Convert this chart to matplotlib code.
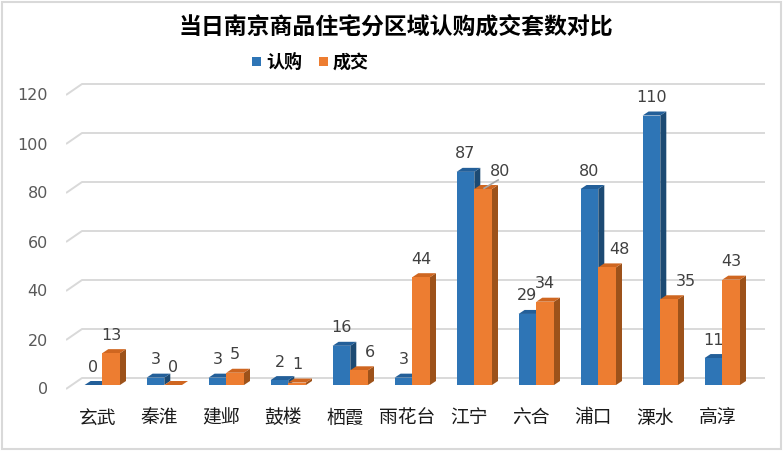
import matplotlib
matplotlib.use("Agg")
import matplotlib.pyplot as plt
from matplotlib.patches import Polygon, Rectangle
import matplotlib.transforms as mtransforms

plt.rcParams['font.family'] = ['Noto Sans CJK SC', 'DejaVu Sans']

# data
districts = ['玄武', '秦淮', '建邺', '鼓楼', '栖霞', '雨花台', '江宁', '六合', '浦口', '溧水', '高淳']
subscribed = [0, 3, 3, 2, 16, 3, 87, 29, 80, 110, 11]   # 认购
closed = [13, 0, 5, 1, 6, 44, 80, 34, 48, 35, 43]       # 成交
yticks = [0, 20, 40, 60, 80, 100, 120]

# colours: front, top, side
blue = ('#2e75b6', '#235f99', '#1c4a73')
orange = ('#ed7d31', '#cf6620', '#9d521a')
grid_c = '#d9d9d9'

W, H = 784, 452
fig = plt.figure(figsize=(W / 100, H / 100), dpi=100)

# plot area in pixels
px_left, px_right, px_bot, px_top = 66, 765, 400, 70
base_px, ppu = 386, 2.45      # pixel of value 0, pixels per unit
step_px = 62                   # pixels per category
first_px = 102.3               # pixel of first category centre
ax = fig.add_axes([px_left / W, (H - px_bot) / H, (px_right - px_left) / W, (px_bot - px_top) / H])
ax.set_xlim((px_left - first_px) / step_px, (px_right - first_px) / step_px)
ax.set_ylim((base_px - px_bot) / ppu, (base_px - px_top) / ppu)
for s in ax.spines.values():
    s.set_visible(False)
ax.set_xticks([])
ax.set_yticks([])

# 3d-ish gridlines on back wall
back = 7 / ppu
front = -4 / ppu
x_front = ax.get_xlim()[0]
x_back = (82 - first_px) / step_px
for v in yticks:
    ax.plot([x_front, x_back, ax.get_xlim()[1]], [v + front, v + back, v + back],
            color=grid_c, lw=1.4, zorder=0, solid_capstyle='butt')
    ax.text(-0.0, v + front, str(v), transform=mtransforms.blended_transform_factory(ax.transAxes, ax.transData)
            + mtransforms.ScaledTranslation(-18 / 100, 0, fig.dpi_scale_trans),
            ha='right', va='center', fontsize=11.5, color='#595959', family='DejaVu Sans')

w = 17.7 / step_px
dx = 6 / step_px
dy = 4 / ppu


def bar3d(x0, v, cols, z):
    x1 = x0 + w
    ax.add_patch(Polygon([(x1, 0), (x1 + dx, dy), (x1 + dx, v + dy), (x1, v)],
                         closed=True, fc=cols[2], ec='none', zorder=z))
    ax.add_patch(Polygon([(x0, v), (x1, v), (x1 + dx, v + dy), (x0 + dx, v + dy)],
                         closed=True, fc=cols[1], ec='none', zorder=z))
    ax.bar(x0, v, width=w, align='edge', color=cols[0], lw=0, zorder=z)


nudge = {('c', 4): 11, ('c', 8): 12, ('c', 9): 17, ('c', 6): 17}
lab_off = 19 / ppu
for i, name in enumerate(districts):
    bar3d(i - w, subscribed[i], blue, 2 + 2 * i)
    bar3d(i, closed[i], orange, 3 + 2 * i)
    for key, x0, v in (('s', i - w, subscribed[i]), ('c', i, closed[i])):
        xc = x0 + w / 2 + nudge.get((key, i), 0) / step_px
        ax.text(xc, v + lab_off, str(v), ha='center', va='center', fontsize=11.5,
                color='#404040', family='DejaVu Sans', zorder=50)
    ax.text(i - 5 / step_px, -32 / ppu, name, ha='center', va='center', fontsize=13.5,
            color='#1a1a1a', clip_on=False)

# leader line for 江宁 成交 label
ax.plot([6 + w / 2 + 1 / step_px, 6 + w / 2 + 15 / step_px],
        [closed[6] + 0.3, closed[6] + 9 / ppu], color='#a6a6a6', lw=1.2, zorder=49)

fig.text(396 / W, 1 - 27 / H, '当日南京商品住宅分区域认购成交套数对比', ha='center', va='center',
         fontsize=16.5, fontweight='bold', color='#000000')

# legend
fig.patches.append(Rectangle((252 / W, 1 - 67 / H), 9 / W, 9 / H, transform=fig.transFigure,
                             fc=blue[0], ec='none'))
fig.text(266 / W, 1 - 62 / H, '认购', ha='left', va='center', fontsize=13, fontweight='bold', color='#000000')
fig.patches.append(Rectangle((319 / W, 1 - 67 / H), 9 / W, 9 / H, transform=fig.transFigure,
                             fc=orange[0], ec='none'))
fig.text(333 / W, 1 - 62 / H, '成交', ha='left', va='center', fontsize=13, fontweight='bold', color='#000000')

# chart border
fig.patches.append(Rectangle((2 / W, 2 / H), (W - 5) / W, (H - 5) / H, transform=fig.transFigure,
                             fc='none', ec='#d9d9d9', lw=1.5))

fig.savefig('out.png', dpi=100)
